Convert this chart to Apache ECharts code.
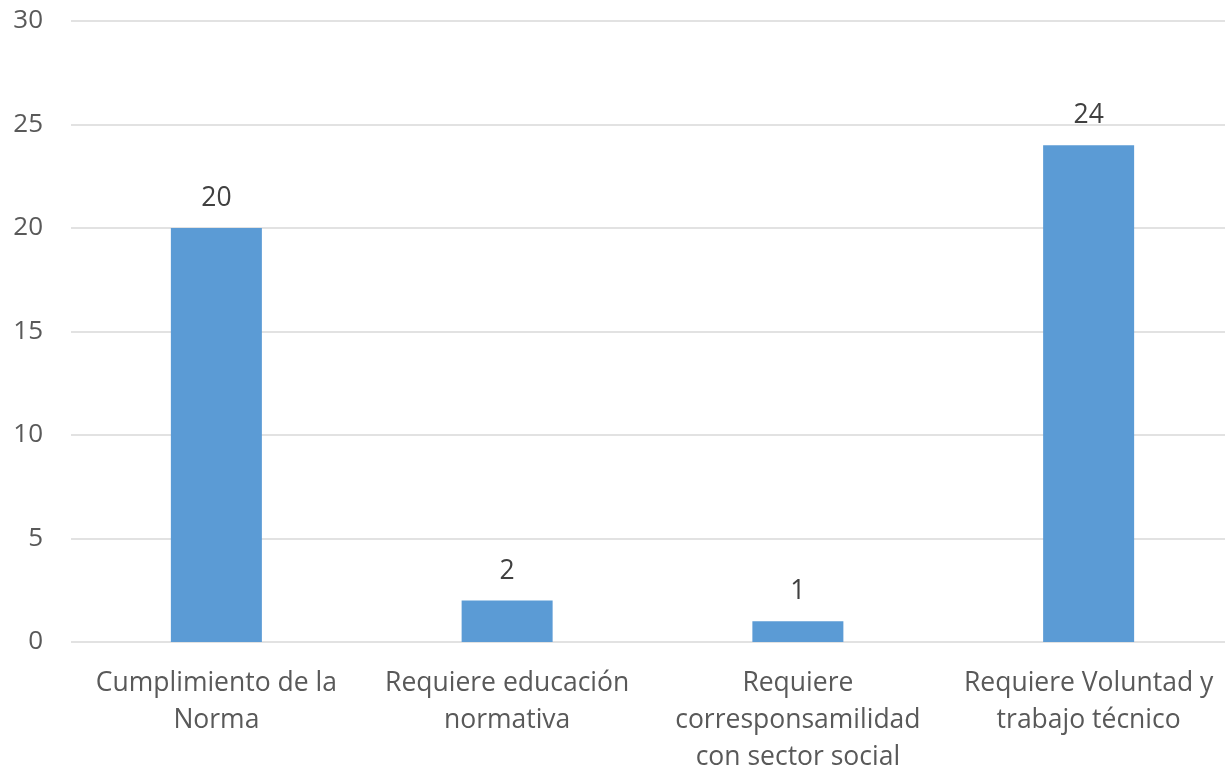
<!DOCTYPE html>
<html>
<head>
<meta charset="utf-8">
<script src="https://cdn.jsdelivr.net/npm/echarts@6/dist/echarts.min.js"></script>
<style>
  html, body { margin: 0; padding: 0; background: #fff; }
  #chart { width: 1225px; height: 767px; }
</style>
</head>
<body>
<div id="chart"></div>
<script>
// Categories (line breaks as they wrap under each bar)
const categories = [
  'Cumplimiento de la\nNorma',
  'Requiere educación\nnormativa',
  'Requiere\ncorresponsamilidad\ncon sector social',
  'Requiere Voluntad y\ntrabajo técnico'
];
// Count per category
const values = [20, 2, 1, 24];
// Value axis range
const yMin = 0;
const yMax = 30;
const yStep = 5;

const FONT = '"Open Sans", "Noto Sans", sans-serif';
const TEXT = '#595959';

const chart = echarts.init(document.getElementById('chart'), null, { renderer: 'canvas' });
chart.setOption({
  animation: false,
  grid: {
    left: 71, top: 21, width: 1163, height: 621,
    containLabel: false,
    outerBoundsMode: 'none'
  },
  xAxis: {
    type: 'category',
    data: categories,
    axisLine: { show: false },
    axisTick: { show: false },
    axisLabel: {
      interval: 0,
      margin: 23,
      color: TEXT,
      fontFamily: FONT,
      fontSize: 26.5,
      lineHeight: 37
    }
  },
  yAxis: {
    type: 'value',
    min: yMin,
    max: yMax,
    interval: yStep,
    axisLine: { show: false },
    axisTick: { show: false },
    splitLine: { lineStyle: { color: '#d9d9d9', width: 1.5 } },
    axisLabel: {
      margin: 28,
      color: TEXT,
      fontFamily: FONT,
      fontSize: 26
    }
  },
  series: [{
    type: 'bar',
    data: values,
    barWidth: 91,
    itemStyle: { color: '#5B9BD5' },
    label: {
      show: true,
      position: 'top',
      distance: 16,
      color: '#404040',
      fontFamily: FONT,
      fontSize: 26.5
    }
  }]
});
</script>
</body>
</html>
